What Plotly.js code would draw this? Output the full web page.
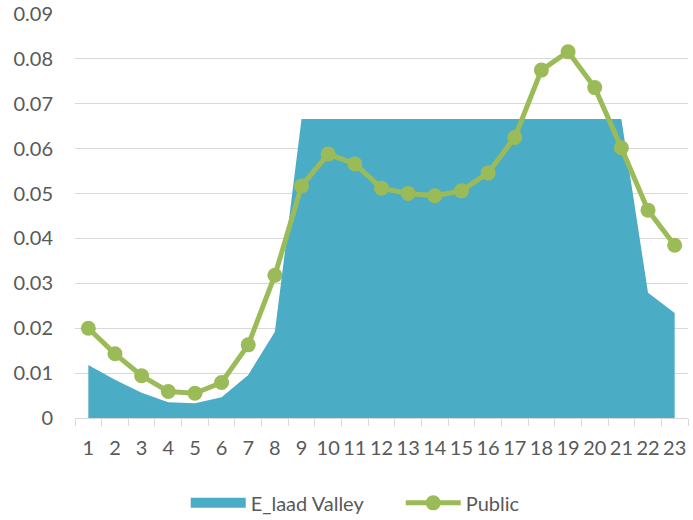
<!DOCTYPE html>
<html>
<head>
<meta charset="utf-8">
<script src="https://cdn.plot.ly/plotly-3.0.1.min.js"></script>
<style>
  html, body { margin: 0; padding: 0; background: #fff; }
  #chart { width: 693px; height: 520px; }
</style>
</head>
<body>
<div id="chart"></div>
<script>
// hours of the day (category axis)
const hours = ['1','2','3','4','5','6','7','8','9','10','11','12','13','14','15','16','17','18','19','20','21','22','23'];

// E_laad Valley profile (area)
const valley = [0.0118, 0.0085, 0.0056, 0.0035, 0.0033, 0.0046, 0.0096, 0.0192,
                0.0666, 0.0666, 0.0666, 0.0666, 0.0666, 0.0666, 0.0666, 0.0666,
                0.0666, 0.0666, 0.0666, 0.0666, 0.0666, 0.0279, 0.0234];

// Public charging profile (line + markers)
const publicProfile = [0.0200, 0.0143, 0.0094, 0.0059, 0.0055, 0.0079, 0.0163, 0.0318,
                       0.0517, 0.0588, 0.0566, 0.0512, 0.0500, 0.0495, 0.0506, 0.0546,
                       0.0625, 0.0775, 0.0816, 0.0736, 0.0602, 0.0463, 0.0385];

const yTicks = [0, 0.01, 0.02, 0.03, 0.04, 0.05, 0.06, 0.07, 0.08, 0.09];
const yTickText = ['0', '0.01', '0.02', '0.03', '0.04', '0.05', '0.06', '0.07', '0.08', '0.09'];

const textColor = '#595959';
const gridColor = '#d9d9d9';
const areaColor = '#4bacc6';
const lineColor = '#9bbb59';

var data = [
    {
        x: hours,
        y: valley,
        name: 'E_laad Valley',
        type: 'scatter',
        mode: 'none',
        fill: 'tozeroy',
        fillcolor: areaColor,
        showlegend: false
    },
    // legend-only entry so the swatch is a thick block like the original
    {
        x: [null],
        y: [null],
        name: 'E_laad Valley',
        type: 'scatter',
        mode: 'lines',
        line: { color: areaColor, width: 14 }
    },
    {
        x: hours,
        y: publicProfile,
        name: 'Public',
        type: 'scatter',
        mode: 'lines+markers',
        cliponaxis: false,
        line: { color: lineColor, width: 5 },
        marker: { color: lineColor, size: 15 }
    }
];

var layout = {
    width: 693,
    height: 520,
    margin: { l: 75, r: 5, t: 14, b: 102, autoexpand: false },
    paper_bgcolor: '#fff',
    plot_bgcolor: '#fff',
    font: { family: 'Lato, "Open Sans", sans-serif', size: 20, color: textColor },
    showlegend: true,
    legend: {
        orientation: 'h',
        xref: 'container',
        yref: 'container',
        x: 0.268,
        xanchor: 'left',
        y: 0.033,
        yanchor: 'middle',
        font: { size: 20, color: textColor },
        itemwidth: 55,
        entrywidth: 145,
        traceorder: 'normal'
    },
    xaxis: {
        type: 'category',
        range: [-0.5, hours.length - 0.5],
        automargin: false,
        tickangle: 0,
        tickson: 'boundaries',
        ticks: 'outside',
        ticklen: 7,
        tickcolor: gridColor,
        showline: true,
        linecolor: gridColor,
        linewidth: 1,
        showgrid: false,
        zeroline: false,
        ticklabelstandoff: 12,
        tickfont: { size: 20, color: textColor },
        fixedrange: true
    },
    yaxis: {
        range: [0, 0.09],
        automargin: false,
        tickvals: yTicks,
        ticktext: yTickText,
        showgrid: true,
        gridcolor: gridColor,
        gridwidth: 1,
        zeroline: false,
        showline: false,
        ticks: '',
        ticklabelstandoff: 21,
        tickfont: { size: 20, color: textColor },
        fixedrange: true
    }
};

Plotly.newPlot('chart', data, layout, { displayModeBar: false, staticPlot: true });
</script>
</body>
</html>
